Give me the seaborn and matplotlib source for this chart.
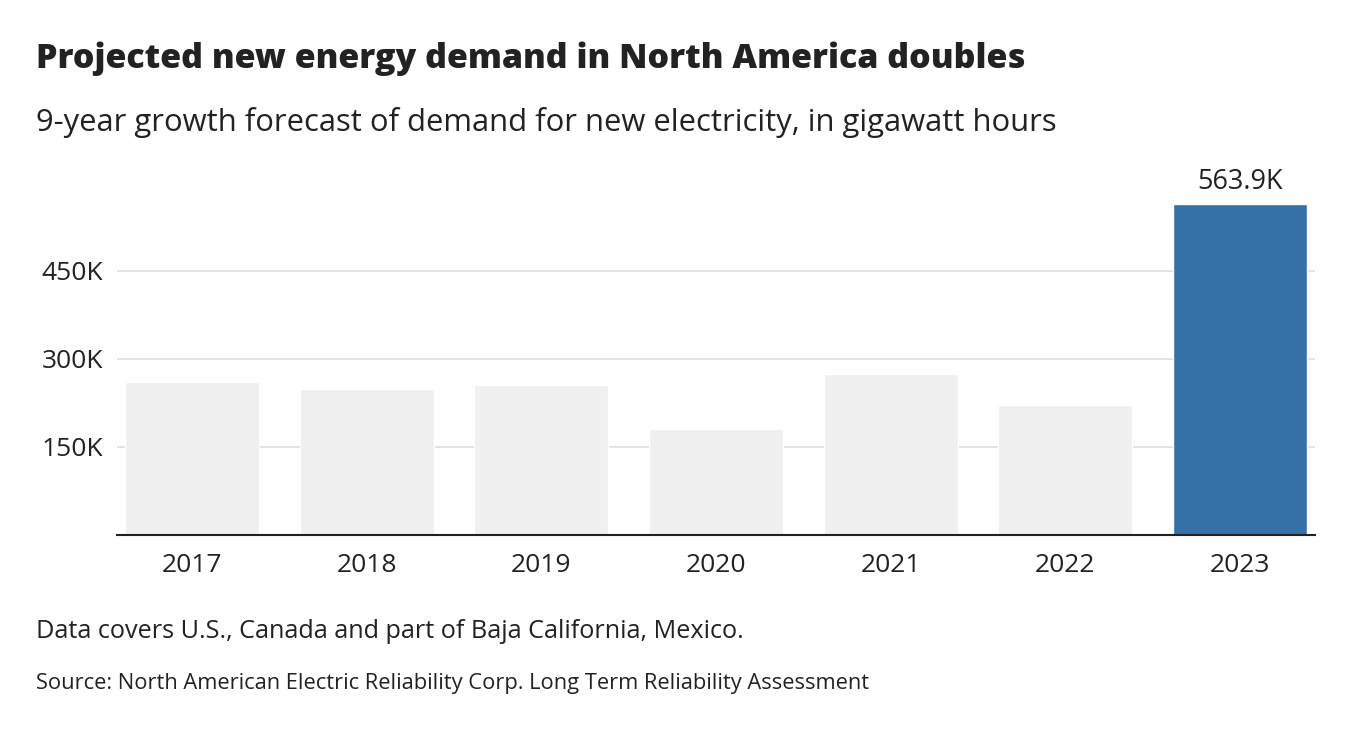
import matplotlib
matplotlib.use("Agg")
import matplotlib.pyplot as plt
import seaborn as sns
import pandas as pd

years = ["2017", "2018", "2019", "2020", "2021", "2022", "2023"]
demand_gwh = [260000, 248000, 255000, 181000, 274000, 221000, 563900]
bar_colors = ["#f0f0f0", "#f0f0f0", "#f0f0f0", "#f0f0f0", "#f0f0f0", "#f0f0f0", "#3570a6"]
y_ticks = [150000, 300000, 450000]
y_tick_labels = ["150K", "300K", "450K"]
highlight_label = "563.9K"

title = "Projected new energy demand in North America doubles"
subtitle = "9-year growth forecast of demand for new electricity, in gigawatt hours"
note = "Data covers U.S., Canada and part of Baja California, Mexico."
source = "Source: North American Electric Reliability Corp. Long Term Reliability Assessment"

sns.set_theme(style="white")
BODY = ["Open Sans", "DejaVu Sans"]
plt.rcParams["font.family"] = BODY
TXT = "#222222"

df = pd.DataFrame({"year": years, "demand": demand_gwh})

W, H = 1354, 742
fig = plt.figure(figsize=(W / 100, H / 100), dpi=100)
fig.patch.set_facecolor("white")

ax_left, ax_right = 117, 1315
base_y = 534.7
ymax = 600000
px_per_unit = 88 / 150000
ax_h = ymax * px_per_unit
ax = fig.add_axes([ax_left / W, (H - base_y) / H, (ax_right - ax_left) / W, ax_h / H])

sns.barplot(data=df, x="year", y="demand", hue="year", palette=bar_colors,
            width=0.767, legend=False, ax=ax, saturation=1, zorder=2)

ax.set_xlim(-0.429, 6.429)
ax.set_ylim(0, ymax)
ax.set_yticks(y_ticks)
ax.set_yticklabels(y_tick_labels)
ax.yaxis.grid(True, color="#dddddd", linewidth=1.2, zorder=0)
ax.set_axisbelow(True)
ax.set_xlabel("")
ax.set_ylabel("")
for s in ["top", "right", "left"]:
    ax.spines[s].set_visible(False)
ax.spines["bottom"].set_color(TXT)
ax.spines["bottom"].set_linewidth(1.5)
ax.spines["bottom"].set_zorder(3)
ax.tick_params(axis="both", length=0, labelsize=19, colors=TXT)
ax.tick_params(axis="x", pad=13)
ax.tick_params(axis="y", pad=10)

ax.annotate(highlight_label, xy=(6, demand_gwh[-1]), xytext=(0, 6),
            textcoords="offset points", ha="center", va="bottom",
            fontsize=19.5, color=TXT)

renderer = fig.canvas.get_renderer()


def fitted_text(x_px, y_px, s, target_w, size, **kw):
    t = fig.text(x_px / W, 1 - y_px / H, s, ha="left", va="center",
                 fontsize=size, color=TXT, **kw)
    w = t.get_window_extent(renderer).width
    t.set_fontsize(size * target_w / w)
    return t


fitted_text(36, 59, title, 991, 25, fontweight=800, family=["Open Sans", "DejaVu Sans"])
fitted_text(36, 122, subtitle, 1020, 20)
fitted_text(36, 632, note, 710, 16)
fitted_text(36, 683, source, 835, 14)

fig.savefig("out.png", dpi=100, facecolor="white")
